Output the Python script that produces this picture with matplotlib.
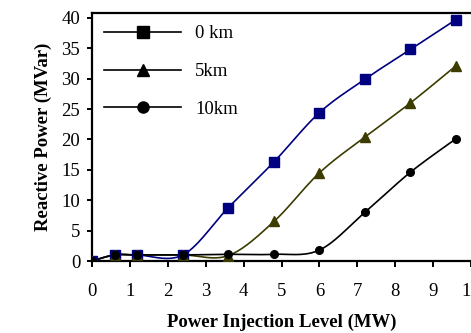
import numpy as np
import matplotlib
matplotlib.use("Agg")
import matplotlib.pyplot as plt
from matplotlib.lines import Line2D

# data
power_mw = [0, 0.6, 1.2, 2.4, 3.6, 4.8, 6.0, 7.2, 8.4, 9.6]
q_0km = [0, 1, 1, 1, 8.8, 16.3, 24.4, 29.9, 34.8, 39.7]
q_5km = [0, 1, 1, 1, 0.9, 6.5, 14.5, 20.4, 26.0, 32.1]
q_10km = [0, 1, 1, 1, 1.1, 1.1, 1.8, 8.0, 14.6, 20.1]
labels = ["0 km", "5km", "10km"]
x_ticks = list(range(0, 11))
y_ticks = list(range(0, 45, 5))

plt.rcParams['font.family'] = ['Liberation Serif', 'DejaVu Serif']


def smooth(x, y, n=30):
    """Excel-like smoothed line: Catmull-Rom bezier through the points."""
    p = np.column_stack([x, y]).astype(float)
    pts = [p[0]]
    for i in range(len(p) - 1):
        p0 = p[i - 1] if i > 0 else p[i]
        p1 = p[i]
        p2 = p[i + 1]
        p3 = p[i + 2] if i + 2 < len(p) else p[i + 1]
        c1 = p1 + (p2 - p0) / 6.0
        c2 = p2 - (p3 - p1) / 6.0
        t = np.linspace(0, 1, n)[1:, None]
        seg = ((1 - t) ** 3 * p1 + 3 * (1 - t) ** 2 * t * c1
               + 3 * (1 - t) * t ** 2 * c2 + t ** 3 * p2)
        pts.extend(seg)
    pts = np.array(pts)
    return pts[:, 0], pts[:, 1]


fig = plt.figure(figsize=(4.71, 3.33), dpi=100)
ax = fig.add_axes([92 / 471, 72 / 333, 379 / 471, 248 / 333])

series = [
    (q_0km, "#000080", "s", 6.5),
    (q_5km, "#3c3c00", "^", 6.5),
    (q_10km, "black", "o", 5.5),
]
for vals, col, mk, ms in series:
    sx, sy = smooth(power_mw, vals)
    ax.plot(sx, sy, color=col, lw=1.2, zorder=3)
    ax.plot(power_mw, vals, ls="none", marker=mk, ms=ms, color=col, zorder=4)

ax.set_xlim(0, 379 / 38.4)
ax.set_ylim(0, 40.8)
ax.set_xticks(x_ticks)
ax.set_yticks(y_ticks)
ax.spines['right'].set_visible(False)
for s in ['left', 'bottom', 'top']:
    ax.spines[s].set_linewidth(1.6)
ax.tick_params(axis='x', direction='out', length=4.5, width=1.4, pad=11,
               labelsize=13.5)
ax.tick_params(axis='y', direction='out', length=3.5, width=1.4, pad=5,
               labelsize=13.5)
ax.set_xlabel("Power Injection Level (MW)", fontsize=13.5, fontweight='bold',
              labelpad=10)
ax.set_ylabel("Reactive Power (MVar)", fontsize=13.5, fontweight='bold',
              labelpad=7)

handles = [Line2D([], [], color='black', lw=1.2, marker=m, ms=ms)
           for m, ms in [("s", 8), ("^", 8), ("o", 8)]]
ax.legend(handles, labels, loc='upper left', bbox_to_anchor=(0.0, 1.0),
          frameon=False, fontsize=13.5, handlelength=4.1, handletextpad=0.75,
          labelspacing=1.1, borderaxespad=0.25)

fig.savefig("out.png", dpi=100)
